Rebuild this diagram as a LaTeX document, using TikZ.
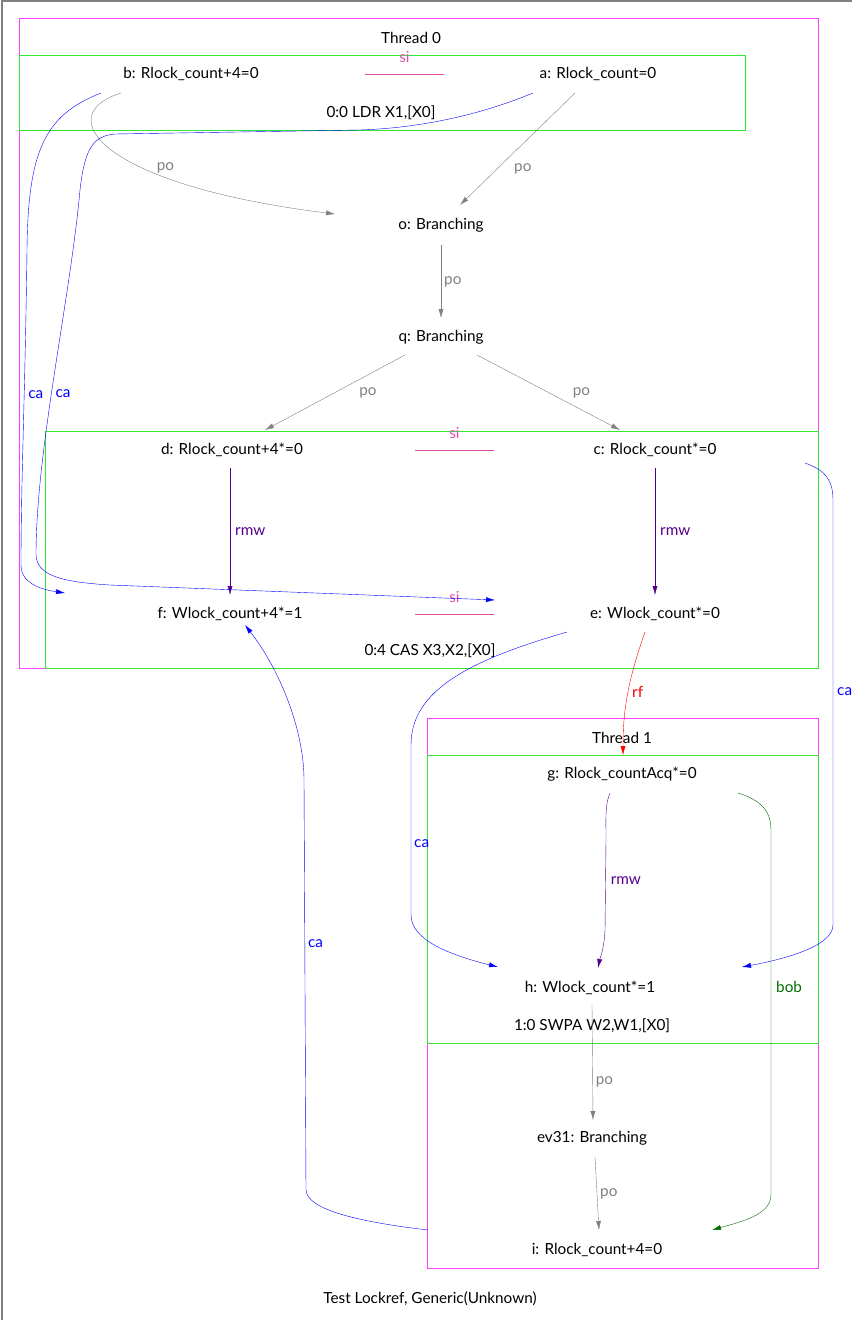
\documentclass[tikz,border=0pt]{standalone}
\usepackage{fontspec}
\setmainfont{Lato}
\usetikzlibrary{calc}
\usetikzlibrary{arrows.meta}

\definecolor{thrd}{RGB}{255,60,255}
\definecolor{instr}{RGB}{50,230,50}
\definecolor{sicol}{RGB}{228,80,170}
\definecolor{rmwcol}{RGB}{85,0,140}
\definecolor{bobcol}{RGB}{0,110,0}
\definecolor{pocol}{RGB}{128,128,128}

\tikzset{
 evt/.style={font=\fontsize{15.3}{18}\selectfont, inner sep=1pt},
 lbl/.style={font=\fontsize{15.3}{18}\selectfont, inner sep=1pt},
 tip/.style={-{Latex[length=9pt,width=5pt]}},
 po/.style={pocol, tip},
 ca/.style={blue, tip},
 rmw/.style={rmwcol, tip},
 rf/.style={red, tip},
 bob/.style={bobcol, tip},
 si/.style={sicol},
}

\begin{document}
\begin{tikzpicture} [x=1pt, y=-1pt]
\useasboundingbox (0,0) rectangle (852,1320);
\draw[pocol, line width=1.5pt] (2,1320)--(2,1)--(852,1);

\draw[thrd] (19,18) rectangle (818,668);
\draw[instr] (19,55) rectangle (745,130);
\draw[instr] (45,431) rectangle (818,668);
\draw[thrd] (427,718) rectangle (818,1268);
\draw[instr] (427,755) rectangle (818,1043);

\node[evt] (t0) at (411,38) {Thread 0};
\node[evt] (ldr) at (381,113) {0:0 LDR X1,[X0]};
\node[evt] (cas) at (430,651) {0:4 CAS X3,X2,[X0]};
\node[evt] (t1) at (622,738) {Thread 1};
\node[evt] (swpa) at (592,1026) {1:0 SWPA W2,W1,[X0]};
\node[evt] (cap) at (430,1299) {Test Lockref, Generic(Unknown)};

\node[evt] (b) at (191,74) {b: Rlock\_count+4=0};
\node[evt] (a) at (598,74) {a: Rlock\_count=0};
\node[evt] (o) at (441,225) {o: Branching};
\node[evt] (q) at (441,337) {q: Branching};
\node[evt] (d) at (232,450) {d: Rlock\_count+4*=0};
\node[evt] (c) at (655,450) {c: Rlock\_count*=0};
\node[evt] (f) at (230,614) {f: Wlock\_count+4*=1};
\node[evt] (e) at (655,614) {e: Wlock\_count*=0};
\node[evt] (g) at (622,774) {g: Rlock\_countAcq*=0};
\node[evt] (h) at (590,988) {h: Wlock\_count*=1};
\node[evt] (ev31) at (592,1138) {ev31: Branching};
\node[evt] (i) at (597,1250) {i: Rlock\_count+4=0};

\draw[si] ($(b)!.4275!(a)$)--($(b)!.6216!(a)$) node[lbl, midway, yshift=17, text=sicol] {si};
\draw[si] ($(d)!.4326!(c)$)--($(d)!.619!(c)$) node[lbl, midway, yshift=17, text=sicol] {si};
\draw[si] ($(f)!.435!(e)$)--($(f)!.621!(e)$) node[lbl, midway, yshift=17, text=sicol] {si};

\draw[po] ($(b)+(-70,19)$) .. controls (50,115) and (100,185) .. ($(o)+(-106,-11)$) node[lbl, pos=.65, xshift=12, yshift=4, text=pocol] {po};
\draw[po] ($(a)+(-23,19)$)--($(o)+(19,-20)$) node[lbl, pos=.68, xshift=26, text=pocol] {po};
\draw[po] ($(o)+(0,20)$)--($(q)+(0,-19)$) node[lbl, midway, right=2pt, text=pocol] {po};
\draw[po] ($(q)+(-36,18)$)--($(d)+(33,-20)$) node[lbl, midway, xshift=33, text=pocol] {po};
\draw[po] ($(q)+(36,18)$)--($(c)+(-35,-20)$) node[lbl, midway, xshift=33, text=pocol] {po};
\draw[rmw] ($(d)+(-2,18)$)--($(f)+(0,-19)$) node[lbl, midway, right=4pt, text=rmwcol] {rmw};
\draw[rmw] ($(c)+(0,18)$)--($(e)+(0,-19)$) node[lbl, midway, right=4pt, text=rmwcol] {rmw};

\draw[ca] ($(b)+(-90,19)$) .. controls (45,115) and (28,150) .. (27,250) .. controls (25,400) and (21,480) .. (21,565) node[lbl, pos=.38, right=3pt] {ca} .. controls (21,585) and (45,590) .. ($(f)+(-165,-21)$);
\draw[ca] ($(a)+(-65,19)$) .. controls (480,115) and (420,128) .. (360,130) -- (115,134) .. controls (95,136) and (85,145) .. (80,190) .. controls (70,300) and (36,450) .. (36,555) node[lbl, pos=.55, right=3pt] {ca} .. controls (37,575) and (60,582) .. (110,585) -- ($(e)+(-160,-14)$);
\draw[ca] ($(c)+(150,13)$) .. controls (825,470) and (833,480) .. (833,500) -- (833,925) node[lbl, pos=.45, right=3pt] {ca} .. controls (833,945) and (790,958) .. ($(h)+(152,-21)$);
\draw[ca] ($(e)+(-88,18)$) .. controls (470,660) and (411,690) .. (411,745) -- (411,915) node[lbl, pos=.58, right=2pt] {ca} .. controls (411,940) and (450,955) .. ($(h)+(-92,-21)$);
\draw[rf] ($(e)+(-10,18)$) .. controls (628,680) and (623,710) .. ($(g)+(1,-19)$) node[lbl, pos=.48, right=3pt, text=red] {rf};
\draw[rmw] ($(g)+(-12,19)$) .. controls (605,805) and (606,815) .. (606,840) -- (605,930) node[lbl, pos=.45, right=4pt, text=rmwcol] {rmw} .. controls (604,950) and (600,958) .. ($(h)+(8,-20)$);
\draw[bob] ($(g)+(116,19)$) .. controls (760,800) and (771,810) .. (771,830) -- (771,1195) node[lbl, pos=.43, right=4pt, text=bobcol] {bob} .. controls (771,1215) and (740,1222) .. ($(i)+(115,-20)$);
\draw[po] ($(h)+(2,17)$)--($(ev31)+(1,-18)$) node[lbl, pos=.67, right=2pt, text=pocol] {po};
\draw[po] ($(ev31)+(3,19)$)--($(i)+(2,-20)$) node[lbl, midway, right=2pt, text=pocol] {po};
\draw[ca] ($(i)+(-169,-20)$) .. controls (360,1222) and (307,1210) .. (306,1190) -- (304,780) node[lbl, pos=.6, right=2pt] {ca} .. controls (304,730) and (280,670) .. ($(f)+(15,11)$);
\end{tikzpicture}
\end{document}
